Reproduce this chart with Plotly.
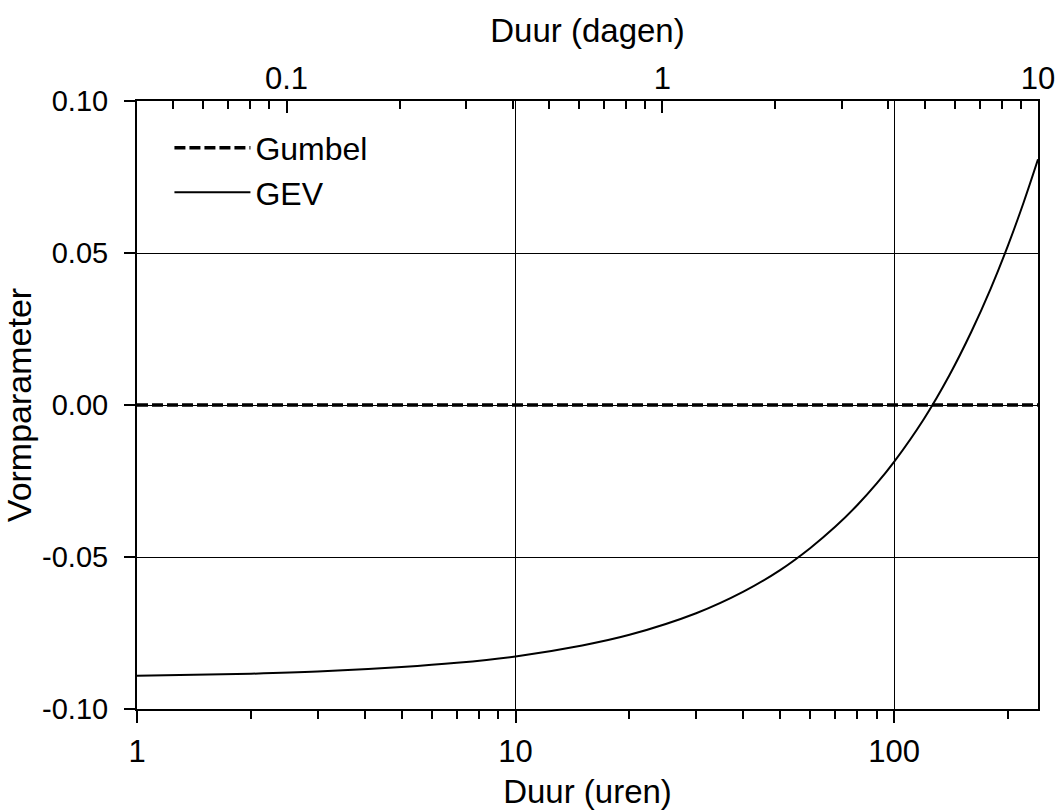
import math
import plotly.graph_objects as go

# ---- data ----
hours = [1, 2, 3, 5, 7, 10, 15, 20, 30, 40, 50, 60, 70, 80, 90, 100,
         120, 140, 160, 180, 200, 220, 240]
gev = [-0.0891, -0.0884, -0.0877, -0.0862, -0.0848, -0.0827, -0.0791, -0.0756,
       -0.0685, -0.0614, -0.0543, -0.0471, -0.0400, -0.0329, -0.0258, -0.0187,
       -0.0045, 0.0098, 0.0241, 0.0383, 0.0525, 0.0667, 0.0808]
gumbel_hours = [1, 240]
gumbel = [0.0, 0.0]

x_ticks = [1, 10, 100]
x_ticklabels = ["1", "10", "100"]
x_minor = [2, 3, 4, 5, 6, 7, 8, 9, 20, 30, 40, 50, 60, 70, 80, 90, 200]

day_ticks = [0.1, 1, 10]
day_ticklabels = ["0.1", "1", "10"]
day_minor = [0.05, 0.06, 0.07, 0.08, 0.09, 0.2, 0.3, 0.4, 0.5, 0.6, 0.7, 0.8, 0.9,
             2, 3, 4, 5, 6, 7, 8, 9]
day_range = [0.04, 10]

y_ticks = [-0.10, -0.05, 0.0, 0.05, 0.10]
y_ticklabels = ["-0.10", "-0.05", "0.00", "0.05", "0.10"]

FONT = "Liberation Sans, Arial, sans-serif"
X_TICK = 31
Y_TICK = 29
TITLE = 33

fig = go.Figure()
fig.add_trace(go.Scatter(x=gumbel_hours, y=gumbel, name="Gumbel", mode="lines",
                         line=dict(color="black", width=3.5, dash="11px,4px")))
fig.add_trace(go.Scatter(x=hours, y=gev, name="GEV", mode="lines",
                         line=dict(color="black", width=2, shape="spline")))
# carrier trace for the top (days) axis
fig.add_trace(go.Scatter(x=day_range, y=[0, 0], xaxis="x2", mode="lines",
                         line=dict(color="rgba(0,0,0,0)", width=0),
                         showlegend=False, hoverinfo="skip"))

fig.update_layout(
    width=1057, height=810,
    margin=dict(l=137, r=19, t=101, b=101, autoexpand=False),
    paper_bgcolor="white", plot_bgcolor="white",
    font=dict(family=FONT, color="black", size=X_TICK),
    showlegend=True,
    legend=dict(x=0.036, y=0.968, xanchor="left", yanchor="top",
                bgcolor="rgba(0,0,0,0)", font=dict(size=32),
                itemwidth=76, tracegroupgap=0),
    xaxis=dict(
        type="log", range=[0, math.log10(240)], automargin=False,
        tickvals=x_ticks, ticktext=x_ticklabels,
        ticks="outside", ticklen=12, tickwidth=2, tickcolor="black",
        ticklabelstandoff=2, ticklabeloverflow="allow",
        showline=True, linewidth=2, linecolor="black",
        showgrid=True, gridcolor="black", gridwidth=1,
        zeroline=False,
        minor=dict(tickvals=x_minor, ticks="outside", ticklen=8, tickwidth=2,
                   tickcolor="black", showgrid=False),
        title=dict(text="Duur (uren)", font=dict(size=TITLE), standoff=12),
        tickfont=dict(size=X_TICK),
    ),
    xaxis2=dict(
        type="log", range=[math.log10(day_range[0]), math.log10(day_range[1])],
        overlaying="x", side="top", anchor="y", automargin=False,
        tickvals=day_ticks, ticktext=day_ticklabels,
        ticks="inside", ticklen=12, tickwidth=2, tickcolor="black",
        ticklabelstandoff=-2, ticklabeloverflow="allow",
        showline=True, linewidth=2, linecolor="black",
        showgrid=False, zeroline=False,
        minor=dict(tickvals=day_minor, ticks="inside", ticklen=8, tickwidth=2,
                   tickcolor="black", showgrid=False),
        title=dict(text="Duur (dagen)", font=dict(size=TITLE), standoff=8),
        tickfont=dict(size=X_TICK),
    ),
    yaxis=dict(
        range=[-0.1, 0.1], automargin=False,
        tickvals=y_ticks, ticktext=y_ticklabels,
        ticks="outside", ticklen=11, tickwidth=2, tickcolor="black",
        ticklabelstandoff=10,
        showline=True, linewidth=2, linecolor="black", mirror=True,
        showgrid=True, gridcolor="black", gridwidth=1,
        zeroline=False,
        title=dict(text="Vormparameter", font=dict(size=34), standoff=5),
        tickfont=dict(size=Y_TICK),
    ),
)

fig.write_html("out.html",
               config={"displayModeBar": False},
               post_script="document.body.style.margin='0';document.body.style.overflow='hidden';")
